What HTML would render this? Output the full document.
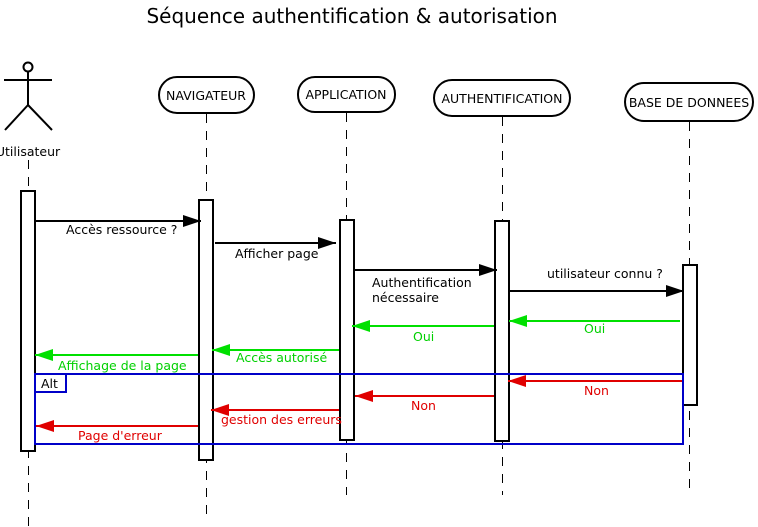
<!DOCTYPE html>
<html><head><meta charset="utf-8"><style>
html,body{margin:0;padding:0;background:#fff;width:758px;height:527px;overflow:hidden}
svg text{font-family:"DejaVu Sans","Liberation Sans",sans-serif;font-size:12.5px}
</style></head><body>
<svg width="758" height="527" viewBox="0 0 758 527" xmlns="http://www.w3.org/2000/svg">
<defs>
<marker id="ab" markerWidth="18" markerHeight="12" refX="18" refY="6" orient="auto" markerUnits="userSpaceOnUse"><path d="M0,0L18,6L0,12z" fill="#000"/></marker>
<marker id="ag" markerWidth="18" markerHeight="12" refX="18" refY="6" orient="auto" markerUnits="userSpaceOnUse"><path d="M0,0L18,6L0,12z" fill="#00e000"/></marker>
<marker id="ar" markerWidth="18" markerHeight="12" refX="18" refY="6" orient="auto" markerUnits="userSpaceOnUse"><path d="M0,0L18,6L0,12z" fill="#e00000"/></marker>
</defs>
<text x="352" y="23" text-anchor="middle" style="font-size:20px">Séquence authentification &amp; autorisation</text>

<g stroke="#000" stroke-width="2" fill="none">
<circle cx="28" cy="67" r="4.5"/>
<line x1="28" y1="72" x2="28" y2="105"/>
<line x1="4" y1="80" x2="52" y2="80"/>
<line x1="28" y1="105" x2="5" y2="130"/>
<line x1="28" y1="105" x2="52" y2="130"/>
</g>
<text x="28" y="156" text-anchor="middle">Utilisateur</text>

<g stroke="#000" stroke-width="1" stroke-dasharray="9,8" shape-rendering="crispEdges">
<line x1="28.5" y1="160" x2="28.5" y2="527"/>
<line x1="206.5" y1="114" x2="206.5" y2="520"/>
<line x1="346.5" y1="113" x2="346.5" y2="495"/>
<line x1="502.5" y1="117" x2="502.5" y2="495"/>
<line x1="689.5" y1="122" x2="689.5" y2="495"/>
</g>

<g stroke="#000" stroke-width="2" fill="#fff">
<rect x="159" y="77" width="95" height="36" rx="18"/>
<rect x="298" y="77" width="97" height="35" rx="17"/>
<rect x="434" y="80" width="136" height="36" rx="18"/>
<rect x="625" y="83" width="128" height="38" rx="19"/>
</g>
<text x="206" y="100" text-anchor="middle">NAVIGATEUR</text>
<text x="346" y="99" text-anchor="middle">APPLICATION</text>
<text x="502" y="103" text-anchor="middle">AUTHENTIFICATION</text>
<text x="689" y="107" text-anchor="middle">BASE DE DONNEES</text>

<g stroke="#000" stroke-width="2" fill="#fff">
<rect x="21" y="191" width="14" height="260"/>
<rect x="199" y="200" width="14" height="260"/>
<rect x="340" y="220" width="14" height="220"/>
<rect x="495" y="221" width="14" height="220"/>
<rect x="683" y="265" width="14" height="140"/>
</g>

<g stroke="#0000c8" stroke-width="2" fill="none">
<rect x="35" y="374" width="648" height="70"/>
<rect x="35" y="374" width="31" height="18"/>
</g>
<text x="41" y="388">Alt</text>

<g stroke="#000" stroke-width="2">
<line x1="35" y1="221" x2="201" y2="221" marker-end="url(#ab)"/>
<line x1="215" y1="243" x2="336" y2="243" marker-end="url(#ab)"/>
<line x1="354" y1="270" x2="497" y2="270" marker-end="url(#ab)"/>
<line x1="510" y1="291" x2="684" y2="291" marker-end="url(#ab)"/>
</g>
<text x="66" y="234">Accès ressource ?</text>
<text x="235" y="258">Afficher page</text>
<text x="372" y="287">Authentification</text>
<text x="372" y="302">nécessaire</text>
<text x="547" y="278">utilisateur connu ?</text>

<g stroke="#00e000" stroke-width="2">
<line x1="680" y1="321" x2="509" y2="321" marker-end="url(#ag)"/>
<line x1="494" y1="326" x2="352" y2="326" marker-end="url(#ag)"/>
<line x1="339" y1="350" x2="212" y2="350" marker-end="url(#ag)"/>
<line x1="198" y1="355" x2="35" y2="355" marker-end="url(#ag)"/>
</g>
<g fill="#00d000">
<text x="584" y="333">Oui</text>
<text x="413" y="341">Oui</text>
<text x="236" y="362">Accès autorisé</text>
<text x="58" y="370">Affichage de la page</text>
</g>

<g stroke="#e00000" stroke-width="2">
<line x1="682" y1="381" x2="508" y2="381" marker-end="url(#ar)"/>
<line x1="494" y1="396" x2="355" y2="396" marker-end="url(#ar)"/>
<line x1="339" y1="410" x2="211" y2="410" marker-end="url(#ar)"/>
<line x1="198" y1="426" x2="36" y2="426" marker-end="url(#ar)"/>
</g>
<g fill="#e00000">
<text x="584" y="395">Non</text>
<text x="411" y="410">Non</text>
<text x="221" y="424">gestion des erreurs</text>
<text x="78" y="440">Page d'erreur</text>
</g>
</svg>
</body></html>
